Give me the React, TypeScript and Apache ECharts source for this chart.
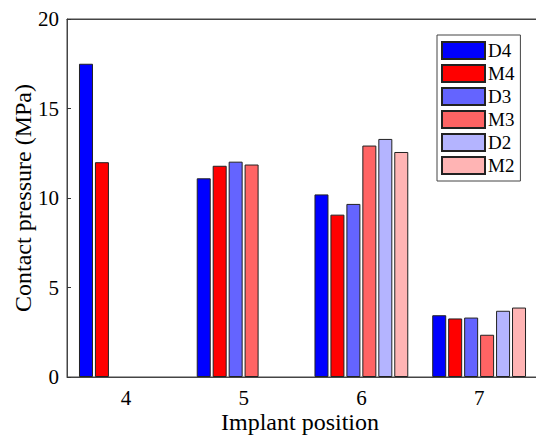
import React, { useEffect, useRef } from "react";
import * as echarts from "echarts";

const categories = ["4", "5", "6", "7"];
const seriesNames = ["D4", "M4", "D3", "M3", "D2", "M2"];
const D4 = [17.5, 11.1, 10.2, 3.45];
const M4 = [12.0, 11.8, 9.07, 3.27];
const D3 = [null, 12.03, 9.67, 3.32];
const M3 = [null, 11.87, 12.93, 2.36];
const D2 = [null, null, 13.3, 3.7];
const M2 = [null, null, 12.57, 3.88];
const yTicks = { min: 0, max: 20, interval: 5 };
const colors = ["#0000ff", "#ff0000", "#6464ff", "#ff6464", "#b4b4ff", "#ffb4b4"];

const FONT = "Liberation Serif";

export default function App() {
  const ref = useRef<HTMLDivElement>(null);
  useEffect(() => {
    const chart = echarts.init(ref.current!, null, { renderer: "svg" });
    const values = [D4, M4, D3, M3, D2, M2];
    chart.setOption({
      animation: false,
      grid: {
        left: 67,
        top: 19,
        bottom: 65,
        right: -2,
        outerBoundsMode: "none",
        containLabel: false,
        show: true,
        borderColor: "#444",
        borderWidth: 1,
      },
      legend: {
        orient: "vertical",
        left: 437,
        top: 35,
        padding: [6, 6, 6, 4],
        itemWidth: 43,
        itemHeight: 17,
        itemGap: 4,
        icon: "rect",
        borderColor: "#444",
        borderWidth: 1,
        backgroundColor: "#fff",
        data: seriesNames,
        textStyle: {
          fontFamily: FONT,
          fontSize: 19,
          lineHeight: 17,
          color: "#000",
          padding: [0, 0, 0, -2],
        },
      },
      xAxis: [
        {
          type: "category",
          data: categories,
          axisLine: { show: true, lineStyle: { color: "#444" } },
          axisTick: { alignWithLabel: true, inside: true, length: 4, lineStyle: { color: "#333" } },
          axisLabel: { fontFamily: FONT, fontSize: 21, lineHeight: 18, color: "#000", margin: 12 },
        },
        {
          type: "category",
          data: categories,
          position: "top",
          axisLine: { show: true, lineStyle: { color: "#444" } },
          axisTick: { alignWithLabel: true, inside: true, length: 4, lineStyle: { color: "#333" } },
          axisLabel: { show: false },
        },
      ],
      yAxis: {
        type: "value",
        min: yTicks.min,
        max: yTicks.max,
        interval: yTicks.interval,
        axisLine: { show: true, lineStyle: { color: "#444" } },
        axisTick: { show: true, inside: true, length: 4, lineStyle: { color: "#333" } },
        splitLine: { show: false },
        axisLabel: { fontFamily: FONT, fontSize: 21, color: "#000", margin: 8 },
      },
      graphic: [
        {
          type: "text",
          x: 300,
          y: 422,
          style: {
            text: "Implant position",
            fontFamily: FONT,
            fontSize: 24,
            lineHeight: 20,
            fill: "#000",
            align: "center",
            verticalAlign: "middle",
          },
        },
        {
          type: "text",
          x: 23,
          y: 198,
          rotation: Math.PI / 2,
          style: {
            text: "Contact pressure (MPa)",
            fontFamily: FONT,
            fontSize: 24,
            lineHeight: 22,
            fill: "#000",
            align: "center",
            verticalAlign: "middle",
          },
        },
      ],
      series: seriesNames.map((name, i) => ({
        name,
        type: "bar",
        data: values[i].map((v) => (v === null ? "-" : v)),
        barWidth: 14,
        barGap: "14%",
        itemStyle: { color: colors[i], borderColor: "#222", borderWidth: 1 },
      })),
    });
    return () => chart.dispose();
  }, []);
  return <div ref={ref} style={{ width: 536, height: 442, position: "absolute", left: 0, top: 0 }} />;
}
